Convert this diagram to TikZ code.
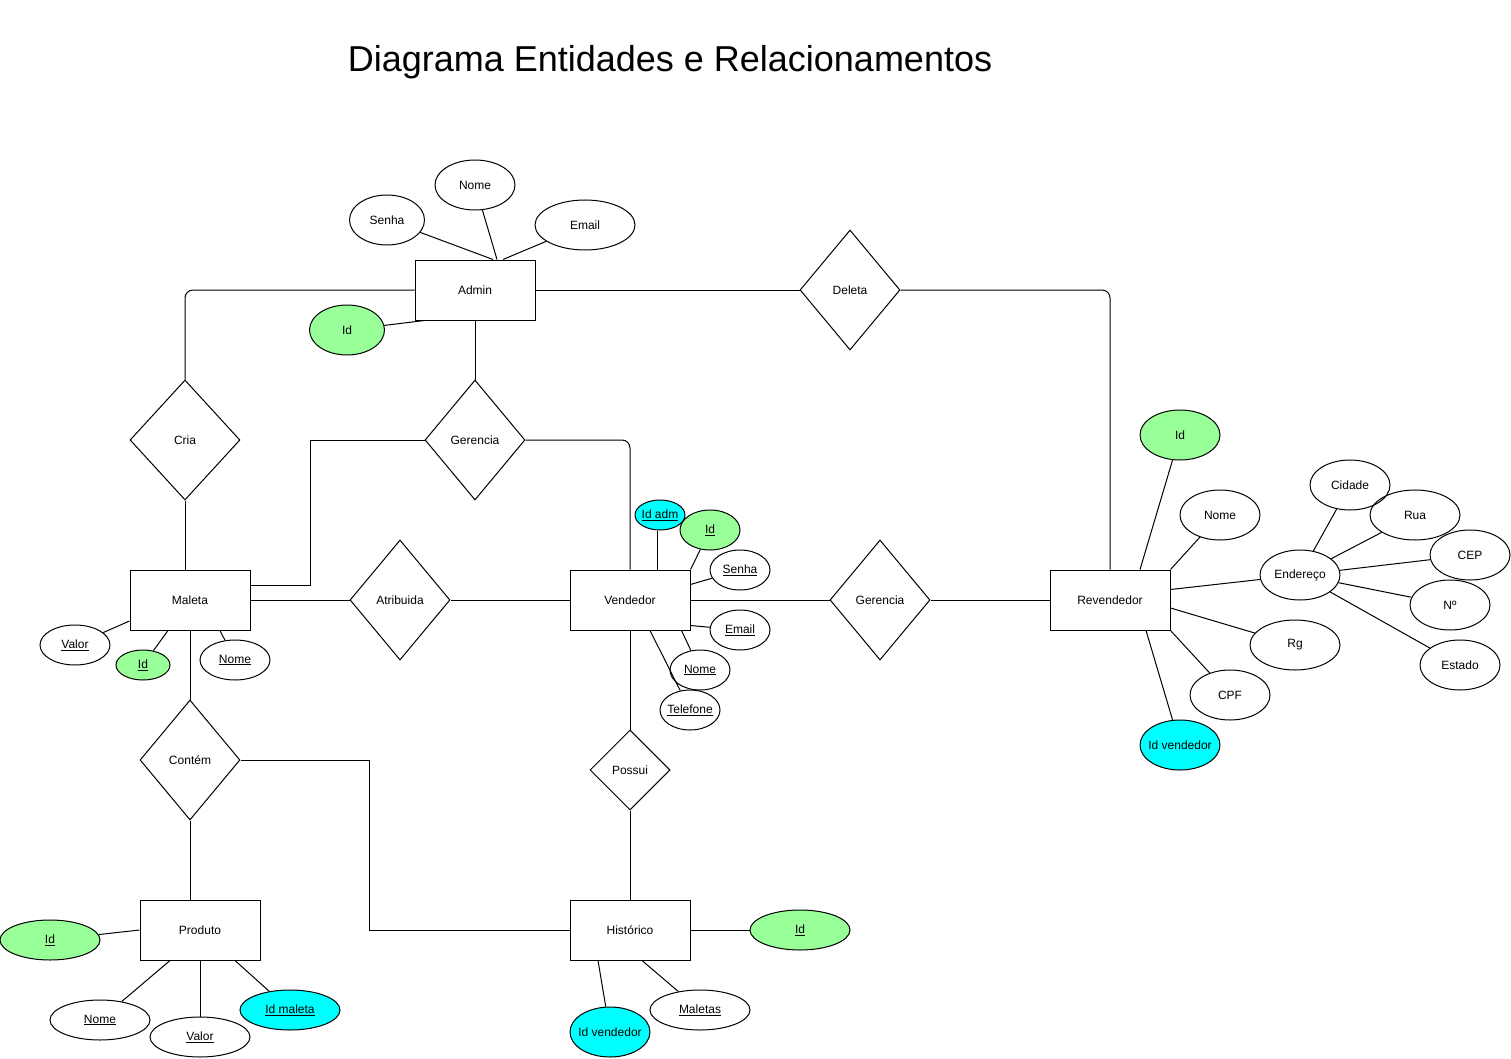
\documentclass[tikz,border=0pt]{standalone}
\usepackage{fontspec}
\setmainfont{Liberation Sans}
\usetikzlibrary{shapes.geometric}
\definecolor{keygreen}{HTML}{99FF99}
\definecolor{fkcyan}{HTML}{00FFFF}

\begin{document}
\begin{tikzpicture}[%
      x=1pt, y=-1pt,
      line width=1pt,
      every node/.style={font=\fontsize{12}{14}\selectfont, text=black},
      entity/.style={draw, rectangle, minimum width=120, minimum height=60, inner sep=0},
      rel/.style={draw, diamond, minimum width=100, minimum height=120, inner sep=0},
      attr/.style={draw, ellipse, minimum width=80, minimum height=50, inner xsep=-4, inner ysep=0},
      keyattr/.style={attr, fill=keygreen},
      fkattr/.style={attr, fill=fkcyan},
      ]
      \useasboundingbox (0,0) rectangle (1511,1059);

      \node (title) at (670,62) {\fontsize{36}{40}\selectfont Diagrama Entidades e Relacionamentos};

      % entidades
      \node [entity] (admin) at (475,290) {Admin};
      \node [entity] (maleta) at (190,600) {Maleta};
      \node [entity] (vendedor) at (630,600) {Vendedor};
      \node [entity] (revendedor) at (1110,600) {Revendedor};
      \node [entity] (produto) at (200,930) {Produto};
      \node [entity] (historico) at (630,930) {Histórico};

      % relacionamentos
      \node [rel, minimum width=110] (cria) at (185,440) {Cria};
      \node [rel] (gerAdm) at (475,440) {Gerencia};
      \node [rel] (deleta) at (850,290) {Deleta};
      \node [rel] (atribuida) at (400,600) {Atribuida};
      \node [rel] (gerVend) at (880,600) {Gerencia};
      \node [rel] (contem) at (190,760) {Contém};
      \node [rel, minimum width=80, minimum height=80] (possui) at (630,770) {Possui};

      % atributos de admin
      \node [attr] (admNome) at (475,185) {Nome};
      \node [attr, minimum width=75] (admSenha) at (387,220) {Senha};
      \node [attr, minimum width=100] (admEmail) at (585,225) {Email};
      \node [keyattr, minimum width=75] (admId) at (347,330) {Id};

      % atributos de maleta
      \node [attr, minimum width=70, minimum height=40] (malValor) at (75,645) {\underline{Valor}};
      \node [keyattr, minimum width=54, minimum height=30] (malId) at (143,665) {\underline{Id}};
      \node [attr, minimum width=70, minimum height=40] (malNome) at (235,660) {\underline{Nome}};

      % atributos de vendedor
      \node [fkattr, minimum width=50, minimum height=30] (venIdAdm) at (660,515) {\underline{Id adm}};
      \node [keyattr, minimum width=60, minimum height=40] (venId) at (710,530) {\underline{Id}};
      \node [attr, minimum width=60, minimum height=40] (venSenha) at (740,570) {\underline{Senha}};
      \node [attr, minimum width=60, minimum height=40] (venEmail) at (740,630) {\underline{Email}};
      \node [attr, minimum width=60, minimum height=40] (venNome) at (700,670) {\underline{Nome}};
      \node [attr, minimum width=60, minimum height=40] (venTel) at (690,710) {\underline{Telefone}};

      % atributos de revendedor
      \node [keyattr] (revId) at (1180,435) {Id};
      \node [attr] (revNome) at (1220,515) {Nome};
      \node [attr] (revEnd) at (1300,575) {Endereço};
      \node [attr, minimum width=90] (revRg) at (1295,645) {Rg};
      \node [attr] (revCpf) at (1230,695) {CPF};
      \node [fkattr] (revIdVend) at (1180,745) {Id vendedor};
      \node [attr] (endCidade) at (1350,485) {Cidade};
      \node [attr, minimum width=90] (endRua) at (1415,515) {Rua};
      \node [attr] (endCep) at (1470,555) {CEP};
      \node [attr] (endNum) at (1450,605) {Nº};
      \node [attr] (endEstado) at (1460,665) {Estado};

      % atributos de produto
      \node [keyattr, minimum width=100, minimum height=40] (proId) at (50,940) {\underline{Id}};
      \node [attr, minimum width=100, minimum height=40] (proNome) at (100,1020) {\underline{Nome}};
      \node [attr, minimum width=100, minimum height=40] (proValor) at (200,1037) {\underline{Valor}};
      \node [fkattr, minimum width=100, minimum height=40] (proIdMal) at (290,1010) {\underline{Id maleta}};

      % atributos de historico
      \node [keyattr, minimum width=100, minimum height=40] (hisId) at (800,930) {\underline{Id}};
      \node [fkattr] (hisIdVend) at (610,1032) {Id vendedor};
      \node [attr, minimum width=100, minimum height=40] (hisMaletas) at (700,1010) {\underline{Maletas}};

      % ligacoes dos atributos
      \draw (admSenha) -- ([xshift=18]admin.north);
      \draw (admNome) -- ([xshift=22]admin.north);
      \draw (admEmail) -- ([xshift=28]admin.north);
      \draw (admId) -- ([xshift=10]admin.south west);

      \draw (malValor) -- ([yshift=-21]maleta.west);
      \draw (malId) -- ([xshift=-22]maleta.south);
      \draw (malNome) -- ([xshift=30]maleta.south);

      \draw ([xshift=-3]venIdAdm.south) -- ([xshift=27]vendedor.north);
      \draw (venId) -- (vendedor.north east);
      \draw (venSenha) -- ([yshift=-15]vendedor.north east);
      \draw (venEmail) -- ([yshift=5]vendedor.south east);
      \draw (venNome) -- ([xshift=-9]vendedor.south east);
      \draw (venTel) -- ([xshift=20]vendedor.south);

      \draw (revId) -- ([xshift=30]revendedor.north);
      \draw (revNome) -- (revendedor.north east);
      \draw (revEnd) -- ([yshift=-20]revendedor.north east);
      \draw (revRg) -- ([yshift=-8]revendedor.east);
      \draw (revCpf) -- (revendedor.south east);
      \draw (revIdVend) -- ([xshift=36]revendedor.south);
      \draw (endCidade) -- (revEnd);
      \draw (endRua) -- (revEnd);
      \draw (endCep) -- (revEnd);
      \draw (endNum) -- (revEnd);
      \draw (endEstado) -- (revEnd);

      \draw (proId) -- (produto.west);
      \draw (proNome) -- ([xshift=-30]produto.south);
      \draw (proValor) -- (produto.south);
      \draw (proIdMal) -- ([xshift=35]produto.south);

      \draw (hisId) -- (historico.east);
      \draw (hisIdVend) -- ([xshift=-32]historico.south);
      \draw (hisMaletas) -- ([xshift=12]historico.south);

      % ligacoes dos relacionamentos
      \draw [rounded corners=8] (admin.west) -| (cria.north);
      \draw (admin) -- (gerAdm);
      \draw (admin) -- (deleta);
      \draw [rounded corners=8] (deleta.east) -| (revendedor.north);
      \draw (cria.south) -- (cria.south |- maleta.north);
      \draw (gerAdm.west) -| ([xshift=60,yshift=15]maleta.east) -- ([yshift=15]maleta.east);
      \draw [rounded corners=8] (gerAdm.east) -| (vendedor.north);
      \draw (maleta) -- (atribuida) -- (vendedor);
      \draw (vendedor) -- (gerVend) -- (revendedor);
      \draw (maleta) -- (contem);
      \draw (contem.south) -- (contem.south |- produto.north);
      \draw (contem.east) -| ([xshift=-200]historico.west) -- (historico.west);
      \draw (vendedor) -- (possui) -- (historico);
      \end{tikzpicture}
\end{document}
